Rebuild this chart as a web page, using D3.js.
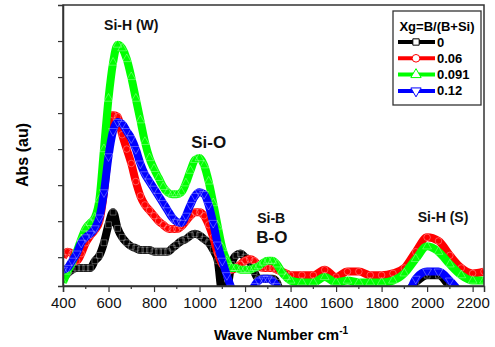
<!DOCTYPE html>
<html>
<head>
<meta charset="utf-8">
<script src="https://cdn.jsdelivr.net/npm/d3@7"></script>
<style>
  body { margin: 0; background: #fff; }
  svg { display: block; font-family: "Liberation Sans", Arial, sans-serif; }
</style>
</head>
<body>
<div id="chart"></div>
<script>
// wave number grid shared by all series (cm-1)
const waveNumbers = [400,420,440,460,480,500,520,540,560,580,600,620,640,660,680,700,720,740,760,780,
  800,820,840,860,880,900,920,940,960,980,1000,1020,1040,1060,1080,1100,1120,1140,1160,1180,
  1200,1220,1240,1260,1280,1300,1320,1340,1360,1380,1400,1450,1500,1550,1600,1650,1700,1750,
  1800,1850,1900,1950,2000,2050,2100,2150,2200,2250];

// absorbance (arbitrary units)
const abs0 = [-0.6,-0.45,-0.35,-0.3,-0.3,-0.3,-0.3,-0.1,0.05,0.4,0.9,1.25,0.8,0.55,0.4,0.3,0.25,0.2,0.2,0.2,
  0.15,0.15,0.15,0.15,0.25,0.35,0.45,0.5,0.6,0.65,0.6,0.5,0.4,0.2,-0.1,-1.0,-0.9,-0.2,0.05,0.1,
  0.0,-0.1,-0.4,-0.6,-0.6,-0.6,-0.6,-0.7,-1.0,-1.0,-1.0,-1.0,-1.0,-1.0,-1.0,-1.0,-1.0,-1.0,
  -1.0,-1.0,-1.0,-0.7,-0.5,-0.5,-0.8,-1.0,-1.0,-1.0];
const abs006 = [0.0,0.15,0.1,-0.1,0.1,0.4,0.6,0.75,1.0,1.8,3.0,3.95,3.9,3.4,3.0,2.6,2.1,1.7,1.45,1.3,
  1.15,1.0,0.9,0.8,0.78,0.78,0.85,1.0,1.15,1.25,1.25,1.15,0.9,0.55,0.1,-0.2,-0.3,-0.35,-0.3,-0.2,
  -0.1,-0.05,-0.1,-0.25,-0.3,-0.3,-0.3,-0.35,-0.4,-0.45,-0.5,-0.5,-0.5,-0.35,-0.55,-0.4,-0.4,-0.5,
  -0.5,-0.45,-0.3,0.15,0.55,0.45,0.05,-0.3,-0.45,-0.4];
const abs0091 = [-0.7,-0.4,-0.15,0.15,0.5,0.8,0.95,1.1,1.6,3.0,4.4,5.4,5.9,5.8,5.5,5.0,4.4,3.8,3.2,2.75,
  2.45,2.2,1.95,1.8,1.75,1.75,1.8,2.05,2.4,2.7,2.75,2.55,2.1,1.5,0.85,0.25,-0.1,-0.3,-0.3,-0.35,
  -0.35,-0.35,-0.3,-0.25,-0.15,-0.1,-0.1,-0.2,-0.4,-0.55,-0.65,-0.7,-0.7,-0.55,-0.7,-0.65,-0.7,-0.7,
  -0.7,-0.65,-0.45,-0.05,0.3,0.15,-0.2,-0.5,-0.65,-0.65];
const abs012 = [-0.35,-0.3,-0.1,0.1,0.4,0.55,0.65,0.8,1.1,1.8,2.8,3.5,3.75,3.7,3.5,3.3,3.0,2.6,2.3,2.1,
  1.9,1.7,1.5,1.3,1.1,0.98,0.95,1.15,1.45,1.7,1.8,1.75,1.45,0.95,0.35,-0.1,-0.5,-0.85,-1.1,-1.1,
  -1.1,-1.0,-0.8,-0.65,-0.6,-0.6,-0.65,-0.8,-1.1,-1.2,-1.2,-1.2,-1.2,-1.2,-1.2,-1.2,-1.2,-1.2,
  -1.2,-1.2,-1.2,-0.6,-0.4,-0.4,-0.65,-1.0,-1.2,-1.2];

const seriesNames = ["0", "0.06", "0.091", "0.12"];
const seriesColors = ["#000000", "#ff0000", "#00ff00", "#0000ff"];
const seriesSymbols = [d3.symbolSquare, d3.symbolCircle, d3.symbolTriangle, d3.symbolTriangle];
const seriesValues = [abs0, abs006, abs0091, abs012];

const xTicks = [400,600,800,1000,1200,1400,1600,1800,2000,2200];
const xMinorTicks = d3.range(500, 2250, 200);
const yTicks = [0,1,2,3,4,5,6];

const peakLabels = [
  { text: "Si-H (W)", x: 700, y: 6.3, size: 14 },
  { text: "Si-O", x: 1040, y: 3.03, size: 17 },
  { text: "Si-B", x: 1315, y: 0.95, size: 14 },
  { text: "B-O", x: 1318, y: 0.4, size: 17 },
  { text: "Si-H (S)", x: 2070, y: 0.97, size: 14 }
];

var width = 495, height = 347;
var margin = { top: 5, right: 11, bottom: 61, left: 63 };
var innerW = width - margin.left - margin.right,
    innerH = height - margin.top - margin.bottom;

var x = d3.scaleLinear().domain([400, 2250]).range([0, innerW]);
var y = d3.scaleLinear().domain([-0.8, 7]).range([innerH, 0]);

var svg = d3.select("#chart").append("svg")
  .attr("width", width)
  .attr("height", height);

var g = svg.append("g")
  .attr("transform", `translate(${margin.left},${margin.top})`);

g.append("clipPath").attr("id", "plotClip")
  .append("rect").attr("width", innerW).attr("height", innerH);

// the bands: thick line plus dense open markers, like the original
var line = d3.line()
  .x(function (d) { return x(d[0]); })
  .y(function (d) { return y(d[1]); })
  .curve(d3.curveMonotoneX);

var plot = g.append("g").attr("clip-path", "url(#plotClip)");

seriesValues.forEach(function (vals, i) {
  var pts = waveNumbers.map(function (w, k) { return [w, vals[k]]; });
  plot.append("path")
    .attr("d", line(pts))
    .attr("fill", "none")
    .attr("stroke", seriesColors[i])
    .attr("stroke-width", 8)
    .attr("stroke-linejoin", "round");
  var sym = d3.symbol().type(seriesSymbols[i]).size(34);
  plot.append("g").selectAll("path")
    .data(pts)
    .join("path")
    .attr("transform", d => `translate(${x(d[0])},${y(d[1])})` + (i === 3 ? " rotate(180)" : ""))
    .attr("d", sym)
    .attr("fill", "none")
    .attr("stroke", "#ffffff")
    .attr("stroke-opacity", 0.45)
    .attr("stroke-width", 0.7);
});

// frame
g.append("rect")
  .attr("width", innerW).attr("height", innerH)
  .attr("fill", "none").attr("stroke", "#333").attr("stroke-width", 1.5);

// X axis
var xAxis = d3.axisBottom(x).tickValues(xTicks).tickSize(6).tickFormat(d3.format("d"));
var xg = g.append("g")
  .attr("class", "x axis")
  .attr("transform", `translate(0,${innerH})`)
  .call(xAxis);
g.append("g")
  .attr("transform", `translate(0,${innerH})`)
  .selectAll("line").data(xMinorTicks).join("line")
  .attr("x1", d => x(d)).attr("x2", d => x(d))
  .attr("y1", 0).attr("y2", 3)
  .attr("stroke", "#333").attr("stroke-width", 1.2);

// Y axis (no labels)
var yAxis = d3.axisLeft(y).tickValues(yTicks).tickSize(5).tickFormat("");
var yg = g.append("g").attr("class", "y axis").call(yAxis);

[xg, yg].forEach(function (ax) {
  ax.select(".domain").attr("stroke", "#333").attr("stroke-width", 1.5);
  ax.selectAll(".tick line").attr("stroke", "#333").attr("stroke-width", 1.2);
});
xg.selectAll(".tick text")
  .attr("font-size", 15)
  .attr("font-family", "Liberation Sans, Arial, sans-serif")
  .attr("fill", "#111")
  .attr("dy", "0.85em");

// axis titles
svg.append("text")
  .attr("transform", "rotate(-90)")
  .attr("x", -155)
  .attr("y", 28)
  .attr("text-anchor", "middle")
  .attr("font-size", 16)
  .attr("font-weight", "bold")
  .text("Abs (au)");

var xt = svg.append("text")
  .attr("x", 281)
  .attr("y", 340)
  .attr("text-anchor", "middle")
  .attr("font-size", 15)
  .attr("font-weight", "bold");
xt.append("tspan").text("Wave Number cm");
xt.append("tspan").attr("dy", -6).attr("font-size", 10).text("-1");

// peak annotations
g.selectAll(".peak")
  .data(peakLabels)
  .join("text")
  .attr("class", "peak")
  .attr("x", d => x(d.x))
  .attr("y", d => y(d.y))
  .attr("text-anchor", "middle")
  .attr("font-size", d => d.size)
  .attr("font-weight", "bold")
  .attr("fill", "#111")
  .text(d => d.text);

// legend
var legend = svg.append("g").attr("transform", "translate(393,11)");
legend.append("rect")
  .attr("width", 88).attr("height", 94)
  .attr("fill", "#fff").attr("stroke", "#333").attr("stroke-width", 1.3);
legend.append("text")
  .attr("x", 44).attr("y", 20)
  .attr("text-anchor", "middle")
  .attr("font-size", 13).attr("font-weight", "bold")
  .text("Xg=B/(B+Si)");

seriesNames.forEach(function (name, i) {
  var row = legend.append("g").attr("transform", `translate(0,${31 + i * 16.3})`);
  row.append("line")
    .attr("x1", 5).attr("x2", 42)
    .attr("stroke", seriesColors[i]).attr("stroke-width", 4);
  row.append("path")
    .attr("transform", "translate(23,0)" + (i === 3 ? " rotate(180)" : ""))
    .attr("d", d3.symbol().type(seriesSymbols[i]).size(i === 0 ? 40 : 46))
    .attr("fill", "#fff")
    .attr("stroke", seriesColors[i])
    .attr("stroke-width", 1);
  row.append("text")
    .attr("x", 44).attr("y", 4.5)
    .attr("font-size", 13).attr("font-weight", "bold")
    .text(name);
});
</script>
</body>
</html>
